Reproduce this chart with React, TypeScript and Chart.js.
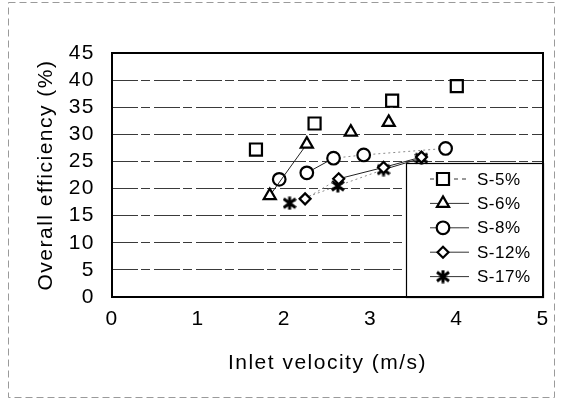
import React, { useEffect, useRef } from "react";
import { Chart, registerables } from "chart.js";
import { drawPoint } from "chart.js/helpers";

Chart.register(...registerables);

// ---- data ----
const seriesNames = ["S-5%", "S-6%", "S-8%", "S-12%", "S-17%"];

const velS5 = [1.67, 2.35, 3.25, 4.0];
const effS5 = [27.2, 32.0, 36.2, 38.9];

const velS6 = [1.83, 2.26, 2.77, 3.21];
const effS6 = [18.7, 28.2, 30.4, 32.2];

const velS8 = [1.94, 2.26, 2.57, 2.92, 3.87];
const effS8 = [21.7, 22.9, 25.6, 26.2, 27.4];

const velS12 = [2.24, 2.63, 3.15, 3.59];
const effS12 = [18.1, 21.8, 23.9, 25.8];

const velS17 = [2.06, 2.62, 3.15, 3.59];
const effS17 = [17.3, 20.5, 23.5, 25.6];

const xMin = 0, xMax = 5, xStep = 1;
const yMin = 0, yMax = 45, yStep = 5;

const xTitle = "Inlet velocity (m/s)";
const yTitle = "Overall efficiency (%)";

const FONT = "'Liberation Sans', Arial, Helvetica, sans-serif";

const pts = (xs: number[], ys: number[]) => xs.map((x, i) => ({ x, y: ys[i] }));

export default function App() {
  const ref = useRef<HTMLCanvasElement>(null);

  useEffect(() => {
    const canvas = ref.current!;

    // asterisk marker (vertical bar + two diagonals)
    const star = document.createElement("canvas");
    star.width = 14;
    star.height = 14;
    const sc = star.getContext("2d")!;
    sc.strokeStyle = "#000";
    sc.lineWidth = 3;
    sc.beginPath();
    sc.moveTo(7, 0.5); sc.lineTo(7, 13.5);
    sc.moveTo(1, 2.5); sc.lineTo(13, 11.5);
    sc.moveTo(1, 11.5); sc.lineTo(13, 2.5);
    sc.stroke();

    const segStyle = (solid: number[], dotted: number[]) => ({
      borderColor: (c: any) =>
        solid.includes(c.p0DataIndex) ? "#222" : dotted.includes(c.p0DataIndex) ? "#8a8a8a" : "rgba(0,0,0,0)",
      borderDash: (c: any) => (dotted.includes(c.p0DataIndex) ? [2, 3] : []),
    });

    const base = {
      showLine: true,
      borderWidth: 1,
      borderColor: "#222",
      pointBorderColor: "#000",
      pointBackgroundColor: "#fff",
      pointBorderWidth: 2.2,
    };

    const spacing = {
      id: "spacing",
      beforeUpdate(chart: any) { chart.ctx.letterSpacing = "1.5px"; },
      beforeDraw(chart: any) { chart.ctx.letterSpacing = "1.5px"; },
    };

    const frame = {
      id: "frame",
      beforeDraw(chart: any) {
        const ctx = chart.ctx;
        ctx.save();
        ctx.strokeStyle = "#9a9a9a";
        ctx.lineWidth = 1;
        ctx.setLineDash([7, 4]);
        ctx.strokeRect(8.5, 2.5, 546, 395);
        ctx.restore();
      },
    };

    const legendBox = {
      id: "legendBox",
      beforeDatasetsDraw(chart: any) {
        const ctx = chart.ctx;
        const ca = chart.chartArea;
        const bx = ca.right - 137;
        const by = ca.top + 110;
        const bw = ca.right - bx;
        const bh = ca.bottom - by;
        ctx.save();
        ctx.fillStyle = "#fff";
        ctx.fillRect(bx, by, bw, bh);
        ctx.strokeStyle = "#000";
        ctx.lineWidth = 1.2;
        ctx.strokeRect(bx + 0.5, by + 0.5, bw, bh);

        chart.data.datasets.forEach((ds: any, i: number) => {
          const y = by + 16 + i * 24.4;
          const mx = bx + 37;
          ctx.strokeStyle = "#333";
          ctx.lineWidth = 1;
          ctx.setLineDash(i === 0 ? [4, 4] : []);
          ctx.beginPath();
          ctx.moveTo(bx + 24, y);
          ctx.lineTo(bx + 63, y);
          ctx.stroke();
          ctx.setLineDash([]);
          ctx.fillStyle = "#fff";
          ctx.strokeStyle = "#000";
          ctx.lineWidth = 2.2;
          drawPoint(ctx, { pointStyle: ds.pointStyle, radius: ds.pointRadius, borderWidth: 2, rotation: 0 } as any, mx, y);
          ctx.fillStyle = "#000";
          ctx.font = `17px ${FONT}`;
          ctx.letterSpacing = "0.5px";
          ctx.textAlign = "left";
          ctx.textBaseline = "middle";
          ctx.fillText(ds.label, bx + 71, y + 1);
        });

        // plot border
        ctx.strokeStyle = "#000";
        ctx.lineWidth = 2;
        ctx.setLineDash([]);
        ctx.strokeRect(ca.left, ca.top, ca.right - ca.left, ca.bottom - ca.top);
        ctx.restore();
      },
    };

    const chart = new Chart(canvas, {
      type: "scatter",
      data: {
        datasets: [
          { ...base, label: seriesNames[0], data: pts(velS5, effS5), pointStyle: "rect", pointRadius: 8.5, showLine: false },
          { ...base, label: seriesNames[1], data: pts(velS6, effS6), pointStyle: "triangle", pointRadius: 7, segment: segStyle([0], []) },
          { ...base, label: seriesNames[2], data: pts(velS8, effS8), pointStyle: "circle", pointRadius: 6.3, segment: segStyle([1], [2, 3]) },
          { ...base, label: seriesNames[3], data: pts(velS12, effS12), pointStyle: "rectRot", pointRadius: 5.5, segment: segStyle([1, 2], [0]) },
          { ...base, label: seriesNames[4], data: pts(velS17, effS17), pointStyle: star as any, pointRadius: 7, segment: segStyle([2], [0, 1]) },
        ] as any,
      },
      options: {
        animation: false,
        responsive: false,
        devicePixelRatio: 1,
        events: [],
        layout: { padding: { top: 53, right: 19, left: 0, bottom: 0 } },
        plugins: { legend: { display: false }, tooltip: { enabled: false } },
        scales: {
          x: {
            type: "linear",
            min: xMin,
            max: xMax,
            grid: { display: false, drawTicks: false },
            border: { display: false },
            ticks: { stepSize: xStep, autoSkip: false, maxRotation: 0, color: "#000", padding: 10, font: { family: FONT, size: 21 } },
            title: { display: true, text: xTitle, color: "#000", padding: { top: 0, bottom: 27 }, font: { family: FONT, size: 21 } },
            afterFit: (s: any) => { s.height = 106; },
          },
          y: {
            type: "linear",
            min: yMin,
            max: yMax,
            grid: { color: "#3a3a3a", lineWidth: 1, drawTicks: false },
            border: { display: false, dash: [26, 3, 9, 4] },
            ticks: { stepSize: yStep, autoSkip: false, color: "#000", padding: 17, font: { family: FONT, size: 21 } },
            title: { display: true, text: yTitle, color: "#000", padding: { top: 34, bottom: 0 }, font: { family: FONT, size: 21 } },
            afterFit: (s: any) => { s.width = 112; },
          },
        },
      } as any,
      plugins: [spacing, frame, legendBox],
    });

    return () => chart.destroy();
  }, []);

  return (
    <div style={{ position: "fixed", left: 0, top: 0, width: 562, height: 403, background: "#fff" }}>
      <canvas ref={ref} width={562} height={403} style={{ display: "block", width: 562, height: 403 }} />
    </div>
  );
}
